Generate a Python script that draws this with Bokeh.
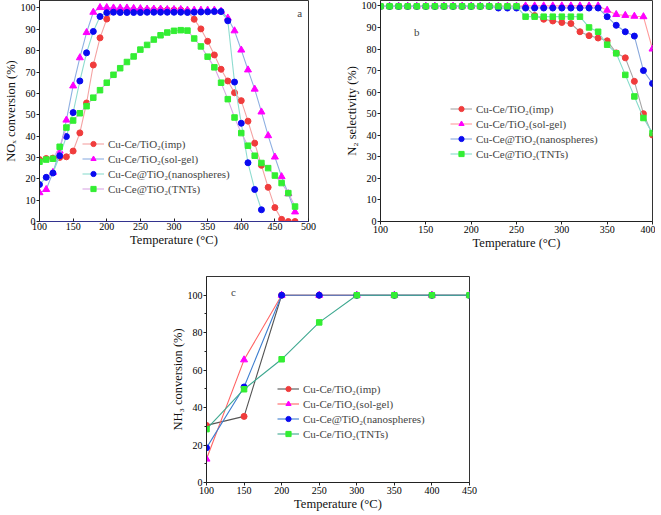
from bokeh.plotting import figure
from bokeh.layouts import column, row
from bokeh.models import Spacer, Label, Range1d, FixedTicker
from bokeh.embed import file_html
from bokeh.resources import INLINE

SERIF = "Liberation Serif"

# ---------------- Panel a: NOx conversion ----------------
temp_a = [100, 110, 120, 130, 140, 150, 160, 170, 180, 190, 200, 210, 220, 230, 240,
          250, 260, 270, 280, 290, 300, 310, 320, 330, 340, 350, 360, 370, 380, 390,
          400, 410, 420, 430, 440, 450, 460, 470, 480]
nox_imp = [29.0, 29.5, 29.7, 30.0, 30.3, 33.0, 41.5, 55.5, 73.3, 86.0, 94.8, 98.5, 99.0,
           99.0, 99.0, 99.0, 99.0, 99.0, 99.0, 99.0, 99.0, 99.0, 98.5, 94.7, 90.2, 84.4,
           78.0, 71.3, 65.8, 60.3, 56.6, 47.0, 36.7, 26.3, 16.0, 6.5, 1.0, 0.0, 0.0]
nox_solgel = [13.5, 15.0, 23.0, 33.0, 47.5, 63.5, 76.7, 88.5, 98.0, 100.2, 100.2, 100.0,
              100.0, 100.0, 99.8, 99.7, 99.5, 99.5, 99.5, 99.3, 99.3, 99.3, 99.0, 99.0,
              99.0, 99.0, 99.0, 98.5, 95.3, 89.3, 80.3, 71.0, 62.0, 51.3, 40.2, 30.2,
              21.0, 13.0, 4.5]
temp_a_nano = [100, 110, 120, 130, 140, 150, 160, 170, 180, 190, 200, 210, 220, 230, 240,
               250, 260, 270, 280, 290, 300, 310, 320, 330, 340, 350, 360, 370, 380, 390,
               400, 410, 420, 430]
nox_nano = [17.3, 20.7, 22.7, 30.8, 39.8, 51.0, 65.8, 79.0, 89.0, 96.0, 97.8, 98.0, 97.9,
            97.9, 97.9, 97.9, 98.0, 98.0, 98.0, 98.0, 98.0, 98.0, 97.9, 98.0, 98.1, 98.2,
            98.3, 98.3, 94.0, 65.3, 46.0, 27.5, 15.0, 5.5]
nox_tnts = [28.0, 29.0, 29.4, 35.0, 44.0, 47.3, 50.7, 54.0, 58.0, 61.5, 65.0, 68.7, 71.8,
            74.7, 77.3, 80.5, 82.7, 85.2, 87.2, 88.5, 89.3, 89.6, 89.4, 85.7, 82.0, 77.2,
            72.2, 65.0, 57.3, 48.7, 41.4, 35.5, 30.8, 27.4, 25.0, 21.5, 18.0, 13.3, 7.0]

# ---------------- Panel b: N2 selectivity ----------------
temp_b = [100, 110, 120, 130, 140, 150, 160, 170, 180, 190, 200, 210, 220, 230, 240,
          250, 260, 270, 280, 290, 300, 310, 320, 330, 340, 350, 360, 370, 380, 390, 400]
sel_imp = [99.8, 99.8, 99.8, 99.8, 99.8, 99.8, 99.8, 99.8, 99.8, 99.8, 99.8, 99.8, 99.8,
           99.8, 99.8, 99.8, 99.5, 95.5, 93.8, 93.0, 92.3, 91.8, 88.0, 86.2, 85.1, 83.8,
           78.2, 75.9, 65.0, 50.0, 40.1]
sel_solgel = [99.9, 99.9, 99.9, 99.9, 99.9, 99.9, 99.9, 99.9, 99.9, 99.9, 99.9, 99.9, 99.9,
              99.9, 99.9, 99.9, 100.0, 100.0, 100.0, 100.0, 100.0, 100.0, 100.0, 100.0,
              100.0, 98.0, 96.0, 95.6, 95.2, 95.0, 80.0]
sel_nano = [99.8, 99.8, 99.8, 99.8, 99.8, 99.8, 99.8, 99.8, 99.8, 99.8, 99.8, 99.8, 99.8,
            99.0, 99.0, 99.0, 99.0, 99.0, 99.0, 99.0, 99.0, 99.0, 99.0, 99.0, 99.0, 95.0,
            91.0, 88.0, 86.0, 70.0, 64.0]
sel_tnts = [99.8, 99.8, 99.8, 99.8, 99.8, 99.8, 99.8, 99.8, 99.8, 99.8, 99.8, 99.8, 99.8,
            99.8, 99.8, 99.8, 95.0, 95.0, 95.0, 95.0, 95.0, 95.0, 95.0, 90.0, 88.0, 82.0,
            78.0, 68.0, 58.0, 48.0, 41.0]

# ---------------- Panel c: NH3 conversion ----------------
temp_c = [100, 150, 200, 250, 300, 350, 400, 450]
nh3_imp = [30.5, 35.3, 100.0, 100.0, 100.0, 100.0, 100.0, 100.0]
nh3_solgel = [12.5, 65.5, 100.0, 100.0, 100.0, 100.0, 100.0, 100.0]
nh3_nano = [18.5, 51.0, 100.0, 100.0, 100.0, 100.0, 100.0, 100.0]
nh3_tnts = [28.5, 49.8, 65.8, 85.5, 100.0, 100.0, 100.0, 100.0]

labels_ab = ["Cu-Ce/TiO\u2082(imp)", "Cu-Ce/TiO\u2082(sol-gel)",
             "Cu-Ce@TiO\u2082(nanospheres)", "Cu-Ce@TiO\u2082(TNTs)"]
labels_c = ["Cu-Ce/TiO\u2082(imp)", "Cu-Ce/TiO\u2082(sol-gel)",
            "Cu-Ce@TiO\u2082(nanospheres)", "Cu-Ce/TiO\u2082(TNTs)"]

xticks_a = [100, 150, 200, 250, 300, 350, 400, 450, 500]
yticks_ab = [0, 10, 20, 30, 40, 50, 60, 70, 80, 90, 100]
xticks_b = [100, 150, 200, 250, 300, 350, 400]
xticks_c = [100, 150, 200, 250, 300, 350, 400, 450]
yticks_c = [0, 20, 40, 60, 80, 100]
yminor_c = [10, 30, 50, 70, 90]

marker_colors = ["#f03c3c", "#ff00ff", "#0a0af0", "#33ee33"]
markers = ["circle", "triangle", "circle", "square"]
msizes = [6, 7, 6, 5.5]
line_a = ["#f4a2a2", "#8fb0e2", "#8edcd0", "#d9a8e4"]
line_b = ["#a6a6a6", "#ff9c9c", "#88a8dc", "#86dccb"]
line_c = ["#555555", "#ff6464", "#3f7fd0", "#3ea890"]


def make_fig(width, height, xr, yr, xticks, yticks, xlabel, ylabel,
             bl, br, bt, bb):
    p = figure(width=width, height=height, output_backend="svg",
               toolbar_location=None, x_range=Range1d(*xr), y_range=Range1d(*yr),
               min_border_left=bl, min_border_right=br, min_border_top=bt,
               min_border_bottom=bb)
    p.xgrid.visible = False
    p.ygrid.visible = False
    p.xaxis.ticker = FixedTicker(ticks=xticks)
    p.yaxis.ticker = FixedTicker(ticks=yticks)
    p.xaxis.axis_label = xlabel
    p.yaxis.axis_label = ylabel
    for ax in (p.xaxis[0], p.yaxis[0]):
        ax.major_label_text_font = SERIF
        ax.major_label_text_font_size = "10px"
        ax.major_label_text_color = "black"
        ax.axis_label_text_font = SERIF
        ax.axis_label_text_font_size = "12.5px"
        ax.axis_label_text_font_style = "normal"
        ax.axis_label_text_color = "#111111"
        ax.major_tick_in = 0
        ax.major_tick_out = 3
        ax.minor_tick_in = 0
        ax.minor_tick_out = 0
        ax.major_label_standoff = 1
        ax.axis_label_standoff = 0
        ax.axis_line_color = "#222222"
        ax.major_tick_line_color = "#222222"
    p.outline_line_color = "#333333"
    p.outline_line_alpha = 1.0
    p.background_fill_color = "white"
    p.border_fill_color = "white"
    return p


def add_series(p, xs_list, ys_list, labels, lcolors):
    for i in range(4):
        p.line(xs_list[i], ys_list[i], line_color=lcolors[i], line_width=1.1,
               legend_label=labels[i])
        p.scatter(xs_list[i], ys_list[i], marker=markers[i], size=msizes[i],
                  fill_color=marker_colors[i], line_color=marker_colors[i],
                  legend_label=labels[i])


def style_legend(p, loc):
    lg = p.legend[0]
    lg.location = loc
    lg.background_fill_alpha = 0
    lg.border_line_alpha = 0
    lg.label_text_font = SERIF
    lg.label_text_font_size = "11px"
    lg.glyph_width = 22
    lg.glyph_height = 13
    lg.label_height = 13
    lg.label_standoff = 4
    lg.spacing = 2
    lg.padding = 0
    lg.margin = 0


# Panel a
pa = make_fig(340, 256, (100, 500), (0, 103.5), xticks_a, yticks_ab,
              "Temperature (\u00b0C)", "NO\u2093 conversion (%)", 32, 32, 0, 33)
pa.xaxis.major_tick_in = 3
pa.xaxis.major_tick_out = 0
pa.xaxis.axis_line_color = "#33338f"
add_series(pa, [temp_a, temp_a, temp_a_nano, temp_a],
           [nox_imp, nox_solgel, nox_nano, nox_tnts], labels_ab, line_a)
style_legend(pa, (43, 26))
pa.add_layout(Label(x=487, y=97.5, text="a", text_font=SERIF, text_font_size="11px",
                    text_align="center", text_baseline="middle"))

# Panel b
pb = make_fig(315, 256, (100, 400), (0, 102.5), xticks_b, yticks_ab,
              "Temperature (\u00b0C)", "N\u2082 selectivity (%)", 40, 3, 0, 35)
add_series(pb, [temp_b] * 4, [sel_imp, sel_solgel, sel_nano, sel_tnts], labels_ab, line_b)
style_legend(pb, (70, 61))
pb.add_layout(Label(x=140, y=88, text="b", text_font=SERIF, text_font_size="11px",
                    text_align="center", text_baseline="middle"))

# Panel c
pc = make_fig(323, 259, (100, 450), (0, 110), xticks_c, yticks_c,
              "Temperature (\u00b0C)", "NH\u2083 conversion (%)", 40, 20, 20, 33)
pc.yaxis.ticker = FixedTicker(ticks=yticks_c, minor_ticks=yminor_c)
pc.yaxis.minor_tick_out = 2
pc.yaxis.minor_tick_line_color = "#222222"
add_series(pc, [temp_c] * 4, [nh3_imp, nh3_solgel, nh3_nano, nh3_tnts], labels_c, line_c)
style_legend(pc, (71, 42))
pc.add_layout(Label(x=136, y=101.5, text="c", text_font=SERIF, text_font_size="11px",
                    text_align="center", text_baseline="middle"))

layout = column(row(pa, pb), row(Spacer(width=166, height=259), pc))

with open("out.html", "w") as f:
    f.write(file_html(layout, INLINE))
